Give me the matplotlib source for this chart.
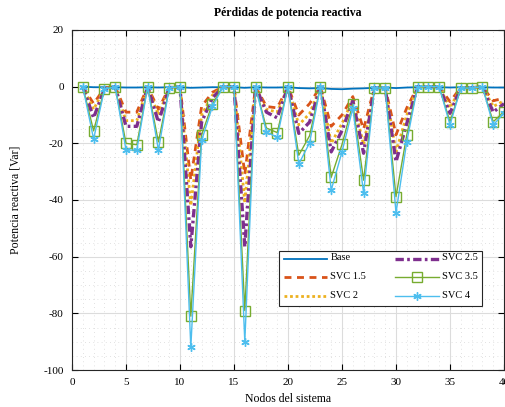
import numpy as np
import matplotlib
matplotlib.use('Agg')
import matplotlib.pyplot as plt
from matplotlib.ticker import MultipleLocator

plt.rcParams['font.family'] = ['Liberation Serif', 'DejaVu Serif']
plt.rcParams['font.size'] = 8
plt.rcParams['axes.unicode_minus'] = False

# datos
nodos = np.arange(1, 41)
base = [0, -0.2, -0.2, -0.2, -0.3, -0.3, -0.2, -0.3, -0.2, -0.2,
        -0.4, -0.3, -0.2, -0.2, -0.2, -0.4, -0.2, -0.3, -0.3, -0.2,
        -0.5, -0.6, -0.5, -0.8, -0.9, -0.7, -0.6, -0.4, -0.3, -0.5,
        -0.3, -0.2, -0.2, -0.2, -0.3, -0.2, -0.2, -0.2, -0.3, -0.3]
svc15 = [0, -6, -0.5, 0, -9, -9, 0, -8, -0.3, 0,
         -33, -7, -2, 0, 0, -31, 0, -7, -7.5, 0,
         -10, -6, 0, -14, -10, -3.5, -15, -0.3, -0.3, -17,
         -7.5, 0, 0, 0, -5.3, -0.3, -0.3, 0, -5, -4]
svc2 = [0, -8, -0.7, 0, -12, -12, 0, -10, -0.3, 0,
        -42, -10, -3, 0, 0, -41, 0, -8, -9, 0,
        -13.5, -9.5, 0, -20, -13, -4.5, -20.5, -0.3, -0.3, -23,
        -10, 0, 0, 0, -7.5, -0.3, -0.3, 0, -7, -5]
svc25 = [0, -11, -0.8, 0, -14, -14, 0, -12.5, -0.4, 0,
         -56.5, -12.5, -4, 0, 0, -56.5, 0, -9, -11, 0,
         -16.5, -12.5, 0, -23, -15.5, -5, -23.5, -0.4, -0.4, -26.5,
         -13, 0, 0, 0, -9.4, -0.4, -0.4, 0, -9, -6]
svc35 = [0, -15.6, -0.8, 0, -20, -20.5, 0, -19.5, -0.5, 0,
         -81, -17, -6, 0, 0, -79, 0, -14.6, -16.2, 0,
         -24.2, -17.3, 0, -32, -20.4, -6.1, -33, -0.5, -0.5, -38.8,
         -17, 0, 0, 0, -12.4, -0.5, -0.5, 0, -12.4, -8.8]
svc4 = [0, -18.5, -1, 0, -22.4, -22.4, 0, -22.4, -0.5, 0,
        -92, -19, -7, 0, 0, -90, 0, -16, -17.9, 0,
        -27.3, -19.8, 0, -36.5, -23, -7.6, -37.6, -0.5, -0.5, -44.5,
        -19.4, 0, 0, 0, -13.5, -0.5, -0.5, 0, -13.5, -9.4]

fig = plt.figure(figsize=(5.05, 4.07), dpi=100)
ax = fig.add_axes([0.1426, 0.0909, 0.8554, 0.8354])

ax.plot(nodos, base, color='#0072BD', lw=1.3, label='Base')
ax.plot(nodos, svc15, color='#D95319', lw=2.0, ls=(0, (2.5, 2)), label='SVC 1.5')
ax.plot(nodos, svc2, color='#EDB120', lw=2.0, ls=(0, (1, 1)), label='SVC 2')
ax.plot(nodos, svc25, color='#7E2F8E', lw=2.4, ls=(0, (2.5, 1, 0.8, 1)), label='SVC 2.5')
ax.plot(nodos, svc35, color='#77AC30', lw=1.0, marker='s', ms=6.5, mfc='none', mew=1.0, label='SVC 3.5')
ax.plot(nodos, svc4, color='#4DBEEE', lw=1.0, marker=(6, 2, 0), ms=6, mew=1.0, label='SVC 4')

ax.set_xlim(0, 40)
ax.set_ylim(-100, 20)
ax.xaxis.set_major_locator(MultipleLocator(5))
ax.xaxis.set_minor_locator(MultipleLocator(1))
ax.yaxis.set_major_locator(MultipleLocator(20))
ax.yaxis.set_minor_locator(MultipleLocator(5))
ax.grid(True, which='major', color='#dcdcdc', lw=0.8)
ax.grid(True, which='minor', color='#d8d8d8', lw=0.6, ls=(0, (1, 4)))
ax.set_axisbelow(True)
ax.tick_params(which='major', direction='in', top=True, right=True, length=4, width=0.8, pad=6)
ax.tick_params(which='minor', length=0)
for s in ax.spines.values():
    s.set_color('#262626')
    s.set_linewidth(0.8)

ax.set_title('Pérdidas de potencia reactiva', fontweight='bold', fontsize=8.5, pad=10)
ax.set_xlabel('Nodos del sistema', fontsize=8.5, labelpad=4)
ax.set_ylabel('Potencia reactiva [Var]', fontsize=8.5, labelpad=16)

leg = ax.legend(ncol=2, loc='lower left', bbox_to_anchor=(0.48, 0.189, 0.469, 0.164),
                mode='expand', fontsize=7.5, handlelength=4.2, frameon=True, fancybox=False,
                edgecolor='#262626', framealpha=1, borderpad=0.4, labelspacing=0.9,
                columnspacing=1.0, handletextpad=0.3, borderaxespad=0)
leg.get_frame().set_linewidth(0.8)
for t in leg.get_texts():
    t.set_va('bottom')

fig.savefig('out.png', dpi=100)
